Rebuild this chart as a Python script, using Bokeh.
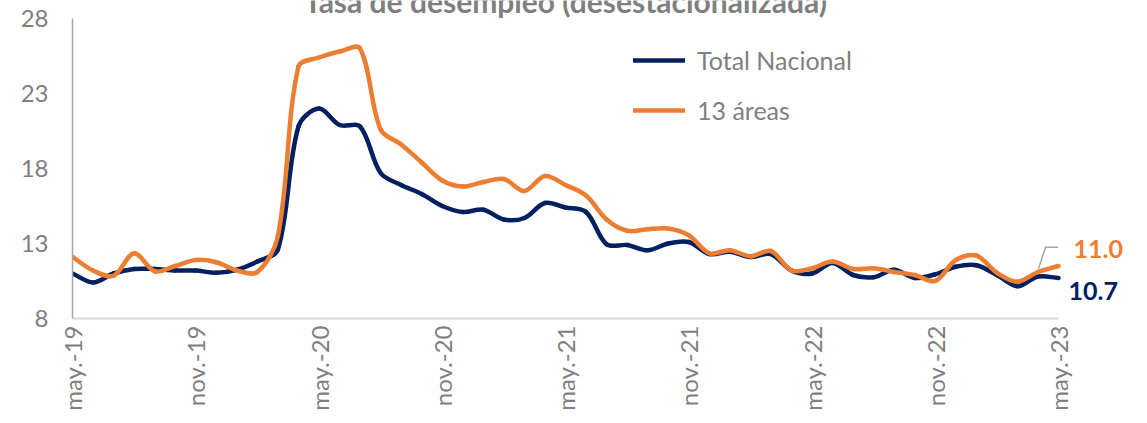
import math
from bokeh.plotting import figure
from bokeh.models import Range1d, FixedTicker, Legend, LegendItem, Label
from bokeh.embed import file_html
from bokeh.resources import INLINE

months = ["may.-19", "jun.-19", "jul.-19", "ago.-19", "sep.-19", "oct.-19", "nov.-19", "dic.-19",
          "ene.-20", "feb.-20", "mar.-20", "abr.-20", "may.-20", "jun.-20", "jul.-20", "ago.-20",
          "sep.-20", "oct.-20", "nov.-20", "dic.-20", "ene.-21", "feb.-21", "mar.-21", "abr.-21",
          "may.-21", "jun.-21", "jul.-21", "ago.-21", "sep.-21", "oct.-21", "nov.-21", "dic.-21",
          "ene.-22", "feb.-22", "mar.-22", "abr.-22", "may.-22", "jun.-22", "jul.-22", "ago.-22",
          "sep.-22", "oct.-22", "nov.-22", "dic.-22", "ene.-23", "feb.-23", "mar.-23", "abr.-23",
          "may.-23"]

total_nacional = [11.0, 10.4, 11.0, 11.3, 11.3, 11.2, 11.2, 11.05, 11.25, 11.8,
                  12.6, 20.8, 22.0, 20.9, 20.8, 17.7, 16.9, 16.3, 15.5, 15.1,
                  15.25, 14.6, 14.7, 15.7, 15.4, 15.1, 12.95, 12.9, 12.55, 13.0,
                  13.1, 12.3, 12.45, 12.1, 12.3, 11.2, 11.0, 11.7, 10.9, 10.75,
                  11.25, 10.7, 10.95, 11.45, 11.55, 10.9, 10.15, 10.8, 10.7]

trece_areas = [12.1, 11.2, 10.85, 12.35, 11.15, 11.5, 11.9, 11.75, 11.2, 11.1,
               13.5, 24.8, 25.4, 25.8, 26.0, 20.6, 19.6, 18.4, 17.2, 16.8,
               17.1, 17.3, 16.5, 17.5, 16.9, 16.2, 14.6, 13.85, 13.95, 14.0,
               13.55, 12.35, 12.55, 12.15, 12.5, 11.2, 11.35, 11.8, 11.3, 11.35,
               11.1, 10.9, 10.5, 11.9, 12.2, 11.05, 10.45, 11.1, 11.5]

series_names = ["Total Nacional", "13 áreas"]
end_labels = ["10.7", "11.0"]
y_ticks = [8, 13, 18, 23, 28]
x_tick_idx = list(range(0, 49, 6))
title_text = "Tasa de desempleo (desestacionalizada)"

NAVY = "#002060"
ORANGE = "#ED7D31"
GREY = "#7F7F7F"
FONT = "Lato"

W, H = 1147, 423
LEFT, BOTTOM = 72, 105
X0, X1 = 0, 48            # data extent on x (months)
Y0, Y1 = 8, 28            # axis extent on y
KX = 986 / (X1 - X0)      # pixels per month
KY = 300 / (Y1 - Y0)      # pixels per percentage point
XR = X0 + (W - LEFT) / KX             # frame reaches the canvas' right edge (room for end labels)
YR = Y0 + (H - BOTTOM) / KY           # frame reaches the canvas' top edge (room for the title)

x = list(range(len(months)))


def smooth_segments(xs, ys):
    """Bezier control points (Excel-like smoothing) so the curve passes through every data point."""
    n = len(xs)
    seg = dict(x0=[], y0=[], x1=[], y1=[], cx0=[], cy0=[], cx1=[], cy1=[])

    def plen(a, b):
        return math.hypot((xs[b] - xs[a]) * KX, (ys[b] - ys[a]) * KY)

    def controls(i):
        a, b = max(i - 1, 0), min(i + 1, n - 1)
        tx, ty = xs[b] - xs[a], ys[b] - ys[a]
        lin = plen(a, i) if i > 0 else 0.0
        lout = plen(i, b) if i < n - 1 else 0.0
        tot = (lin + lout) or 1.0
        fo, fi = lout / tot / 3.0, lin / tot / 3.0
        return (xs[i] + tx * fo, ys[i] + ty * fo), (xs[i] - tx * fi, ys[i] - ty * fi)

    for i in range(n - 1):
        out_c, _ = controls(i)
        _, in_c = controls(i + 1)
        seg["x0"].append(xs[i]); seg["y0"].append(ys[i])
        seg["x1"].append(xs[i + 1]); seg["y1"].append(ys[i + 1])
        seg["cx0"].append(out_c[0]); seg["cy0"].append(out_c[1])
        seg["cx1"].append(in_c[0]); seg["cy1"].append(in_c[1])
    return seg


p = figure(width=W, height=H, output_backend="svg", toolbar_location=None,
           x_range=Range1d(X0, XR), y_range=Range1d(Y0, YR),
           min_border_left=LEFT, min_border_right=0, min_border_top=0, min_border_bottom=BOTTOM)
p.outline_line_color = None
p.background_fill_color = "white"
p.border_fill_color = "white"
p.xgrid.visible = False
p.ygrid.visible = False

r1 = p.bezier(**smooth_segments(x, total_nacional), line_color=NAVY, line_width=4.5, line_cap="round")
r2 = p.bezier(**smooth_segments(x, trece_areas), line_color=ORANGE, line_width=4.5, line_cap="round")

# y axis
p.yaxis.ticker = FixedTicker(ticks=y_ticks)
p.yaxis.bounds = (Y0, Y1)
p.yaxis.axis_line_color = "#A6A6A6"
p.yaxis.axis_line_width = 1.5
p.yaxis.major_tick_line_color = None
p.yaxis.minor_tick_line_color = None
p.yaxis.major_label_text_font = FONT
p.yaxis.major_label_text_font_size = "24px"
p.yaxis.major_label_text_color = GREY
p.yaxis.major_label_standoff = 18

# x axis
p.xaxis.ticker = FixedTicker(ticks=x_tick_idx)
p.xaxis.bounds = (X0, X1)
p.xaxis.major_label_overrides = {i: months[i] for i in x_tick_idx}
p.xaxis.axis_line_color = "#D9D9D9"
p.xaxis.axis_line_width = 2
p.xaxis.major_tick_line_color = None
p.xaxis.minor_tick_line_color = None
p.xaxis.major_label_orientation = 1.5708
p.xaxis.major_label_text_font = FONT
p.xaxis.major_label_text_font_size = "24px"
p.xaxis.major_label_text_color = GREY
p.xaxis.major_label_standoff = 1

legend = Legend(items=[LegendItem(label=series_names[0], renderers=[r1]),
                       LegendItem(label=series_names[1], renderers=[r2])],
                location=(561, 193), orientation="vertical",
                glyph_width=52, glyph_height=20, label_height=20, spacing=20,
                padding=0, margin=0, label_standoff=12,
                label_text_font=FONT, label_text_font_size="25px", label_text_color=GREY,
                border_line_color=None, background_fill_alpha=0)
p.add_layout(legend)

# callout leader for 13 áreas
p.line([47.03, 47.37, 47.98], [11.33, 12.75, 12.75], line_color="#A6A6A6", line_width=1.5)

p.add_layout(Label(x=x[-1], y=trece_areas[-1] + 17.5 / KY, x_offset=15,
                   text=end_labels[1], text_font=FONT, text_font_style="bold", text_font_size="25px",
                   text_color=ORANGE, text_baseline="middle", text_align="left"))
p.add_layout(Label(x=x[-1], y=total_nacional[-1] - 12.5 / KY, x_offset=10,
                   text=end_labels[0], text_font=FONT, text_font_style="bold", text_font_size="25px",
                   text_color=NAVY, text_baseline="middle", text_align="left"))

# title, cut off at the top edge as in the reference
p.add_layout(Label(x=(X0 + X1) / 2, y=YR, text=title_text,
                   text_font=FONT, text_font_style="bold", text_font_size="30px",
                   text_color=GREY, text_baseline="alphabetic", text_align="center"))

open("out.html", "w").write(file_html(p, INLINE))
